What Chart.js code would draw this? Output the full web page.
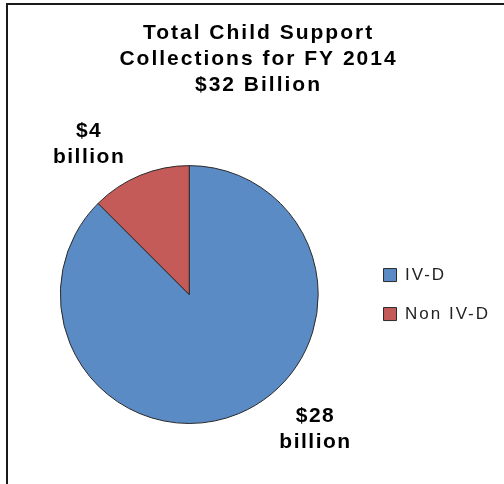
<!DOCTYPE html>
<html>
<head>
<meta charset="utf-8">
<script src="https://cdn.jsdelivr.net/npm/chart.js@4"></script>
<style>
  html, body { margin: 0; padding: 0; background: #fff; overflow: hidden; }
  #wrap { position: relative; width: 504px; height: 484px; }
  #frame {
    position: absolute; left: 6px; top: 3px; width: 600px; height: 600px;
    border-left: 2px solid #1a1a1a; border-top: 2px solid #1a1a1a;
    pointer-events: none;
  }
</style>
</head>
<body>
<div id="wrap">
  <canvas id="myChart" width="504" height="484"></canvas>
  <div id="frame"></div>
</div>
<script>
const titleLines = ['Total Child Support', 'Collections for FY 2014', '$32 Billion'];
const categories = ['IV-D', 'Non IV-D'];
const collections = [28, 4];   // billions of dollars
const unit = 'billion';

const colors = ['#5b8bc5', '#c45b58'];

// where the value labels sit: turn from the middle of the slice (deg), distance in radii
const labelTurn = [-20.7, -11.2];
const labelDist = [1.43, 1.40];

// old excel text is wide, so space the letters out a bit
const spacing = {
    id: 'spacing',
    beforeLayout(chart) { chart.ctx.letterSpacing = '2px'; },
    beforeDraw(chart) { chart.ctx.letterSpacing = '2px'; }
};

const valueLabels = {
    id: 'valueLabels',
    afterDatasetsDraw(chart) {
        const ctx = chart.ctx;
        const arcs = chart.getDatasetMeta(0).data;
        ctx.save();
        ctx.letterSpacing = '1.5px';
        ctx.font = 'bold 21px "Liberation Sans", Arial, sans-serif';
        ctx.fillStyle = '#000';
        ctx.textAlign = 'center';
        ctx.textBaseline = 'middle';
        arcs.forEach((arc, i) => {
            const p = arc.getProps(['x', 'y', 'startAngle', 'endAngle', 'outerRadius'], true);
            const a = (p.startAngle + p.endAngle) / 2 + labelTurn[i] * Math.PI / 180;
            const r = p.outerRadius * labelDist[i];
            const x = p.x + Math.cos(a) * r;
            const y = p.y + Math.sin(a) * r;
            ctx.fillText('$' + collections[i], x, y - 13);
            ctx.fillText(unit, x, y + 13);
        });
        ctx.restore();
    }
};

const data = {
    labels: categories,
    datasets: [{
        data: collections,
        backgroundColor: colors,
        borderColor: '#2a2a2a',
        borderWidth: 1
    }]
};

const config = {
    type: 'pie',
    data,
    options: {
        responsive: false,
        devicePixelRatio: 1,
        animation: false,
        layout: {
            padding: { left: 17, right: 4, top: 0, bottom: 60 }
        },
        plugins: {
            title: {
                display: true,
                text: titleLines,
                color: '#000',
                font: { family: '"Liberation Sans", Arial, sans-serif', size: 21, weight: 'bold', lineHeight: 1.24 },
                padding: { top: 20, bottom: 67 }
            },
            legend: {
                position: 'right',
                fullSize: false,
                labels: {
                    boxWidth: 13,
                    boxHeight: 13,
                    padding: 22,
                    color: '#222',
                    font: { family: '"Liberation Sans", Arial, sans-serif', size: 17 }
                }
            },
            tooltip: { enabled: false }
        }
    },
    plugins: [spacing, valueLabels]
};

var myChart = new Chart(
    document.getElementById('myChart'),
    config
);
</script>
</body>
</html>
